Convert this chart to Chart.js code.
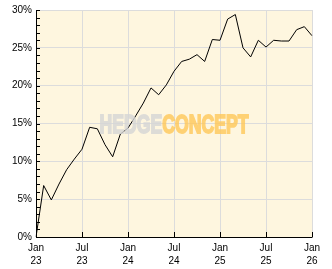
<!DOCTYPE html>
<html>
<head>
<meta charset="utf-8">
<script src="https://cdn.jsdelivr.net/npm/chart.js@4/dist/chart.umd.min.js"></script>
<style>
html,body{margin:0;padding:0;background:#fff;}
canvas{display:block;}
</style>
</head>
<body>
<canvas id="c" width="332" height="269"></canvas>
<script>
// month boundaries (value at end of previous month)
const months = ['2023-01','2023-02','2023-03','2023-04','2023-05','2023-06','2023-07','2023-08','2023-09','2023-10','2023-11','2023-12',
  '2024-01','2024-02','2024-03','2024-04','2024-05','2024-06','2024-07','2024-08','2024-09','2024-10','2024-11','2024-12',
  '2025-01','2025-02','2025-03','2025-04','2025-05','2025-06','2025-07','2025-08','2025-09','2025-10','2025-11','2025-12',
  '2026-01'];
const performance = [0, 6.8, 4.9, 7.0, 8.9, 10.3, 11.6, 14.5, 14.3, 12.2, 10.6, 13.6,
  14.4, 16.0, 17.7, 19.7, 18.8, 20.1, 21.9, 23.2, 23.5, 24.1, 23.2, 26.1,
  26.0, 28.8, 29.4, 25.0, 23.8, 26.0, 25.1, 26.0, 25.9, 25.9, 27.4, 27.8,
  26.6];
const monthNames = {'01':'Jan','07':'Jul'};
const yTickValues = [0, 5, 10, 15, 20, 25, 30];
const watermarkParts = ['HEDGE', 'CONCEPT'];

const plotBg = {
  id: 'plotBg',
  beforeDraw(chart) {
    const {ctx, chartArea: a} = chart;
    ctx.save();
    ctx.fillStyle = '#FEF6DF';
    ctx.fillRect(a.left, a.top, a.right - a.left, a.bottom - a.top);
    ctx.restore();
  }
};

const overlay = {
  id: 'overlay',
  afterDatasetsDraw(chart) {
    const {ctx, chartArea: a} = chart;
    // watermark on an offscreen layer, composited with transparency
    const off = document.createElement('canvas');
    off.width = chart.width; off.height = chart.height;
    const o = off.getContext('2d');
    o.font = 'bold 25px "Liberation Sans", Arial, sans-serif';
    o.textAlign = 'left';
    o.textBaseline = 'alphabetic';
    const w1 = o.measureText(watermarkParts[0]).width;
    const w2 = o.measureText(watermarkParts[1]).width;
    const target = 149;
    const sx = target / (w1 + w2);
    const cx = (a.left + a.right) / 2;
    o.translate(cx - target / 2, 132.5);
    o.scale(sx, 1);
    o.lineJoin = 'miter';
    o.lineWidth = 1.8;
    o.fillStyle = o.strokeStyle = 'rgb(214,214,214)';
    o.fillText(watermarkParts[0], 0, 0);
    o.strokeText(watermarkParts[0], 0, 0);
    o.fillStyle = o.strokeStyle = 'rgb(255,200,90)';
    o.fillText(watermarkParts[1], w1, 0);
    o.strokeText(watermarkParts[1], w1, 0);
    ctx.save();
    ctx.globalAlpha = 0.8;
    ctx.drawImage(off, 0, 0);
    ctx.restore();
  },
  afterDraw(chart) {
    const {ctx, chartArea: a, scales} = chart;
    ctx.save();
    ctx.strokeStyle = '#000';
    ctx.lineWidth = 1;
    ctx.beginPath();
    // axes
    ctx.moveTo(a.left + 0.5, a.top);
    ctx.lineTo(a.left + 0.5, a.bottom + 0.5);
    ctx.lineTo(a.right + 0.5, a.bottom + 0.5);
    // y minor/major ticks inward
    for (let v = 0; v <= 30; v++) {
      const y = Math.round(scales.y.getPixelForValue(v)) + 0.5;
      ctx.moveTo(a.left, y);
      ctx.lineTo(a.left + 4, y);
    }
    // x ticks inward
    months.forEach((m, i) => {
      if (monthNames[m.slice(5)]) {
        const x = Math.round(scales.x.getPixelForValue(i)) + 0.5;
        ctx.moveTo(x, a.bottom);
        ctx.lineTo(x, a.bottom - 5);
      }
    });
    ctx.stroke();
    ctx.restore();
  }
};

new Chart(document.getElementById('c'), {
  type: 'line',
  data: {
    labels: months,
    datasets: [{
      data: performance,
      borderColor: '#000',
      borderWidth: 1,
      pointRadius: 0,
      tension: 0,
      fill: false
    }]
  },
  options: {
    responsive: false,
    animation: false,
    devicePixelRatio: 1,
    layout: {padding: {top: 10, right: 20, left: 0, bottom: 0}},
    plugins: {legend: {display: false}, tooltip: {enabled: false}},
    scales: {
      x: {
        type: 'category',
        offset: false,
        afterFit(s) { s.height = 32; },
        border: {display: false},
        grid: {
          drawTicks: false,
          color: (c) => (c.tick && monthNames[months[c.index] ? months[c.index].slice(5) : ''] && c.index > 0) ? '#DCDCDC' : 'rgba(0,0,0,0)',
          lineWidth: 1
        },
        ticks: {
          autoSkip: false,
          maxRotation: 0,
          padding: 5,
          color: '#000',
          font: {family: '"Liberation Sans", Arial, sans-serif', size: 10, lineHeight: 1.3},
          callback(value, index) {
            const m = months[index];
            const n = monthNames[m.slice(5)];
            return n ? [n, m.slice(2, 4)] : '';
          }
        }
      },
      y: {
        min: 0,
        max: 30,
        afterFit(s) { s.width = 36; },
        border: {display: false},
        grid: {
          drawTicks: false,
          color: (c) => (c.tick && yTickValues.includes(c.tick.value) && c.tick.value > 0) ? '#DCDCDC' : 'rgba(0,0,0,0)',
          lineWidth: 1
        },
        ticks: {
          stepSize: 1,
          autoSkip: false,
          padding: 4,
          color: '#000',
          font: {family: '"Liberation Sans", Arial, sans-serif', size: 10},
          callback(v) { return yTickValues.includes(v) ? v + '%' : ''; }
        }
      }
    }
  },
  plugins: [plotBg, overlay]
});
</script>
</body>
</html>
